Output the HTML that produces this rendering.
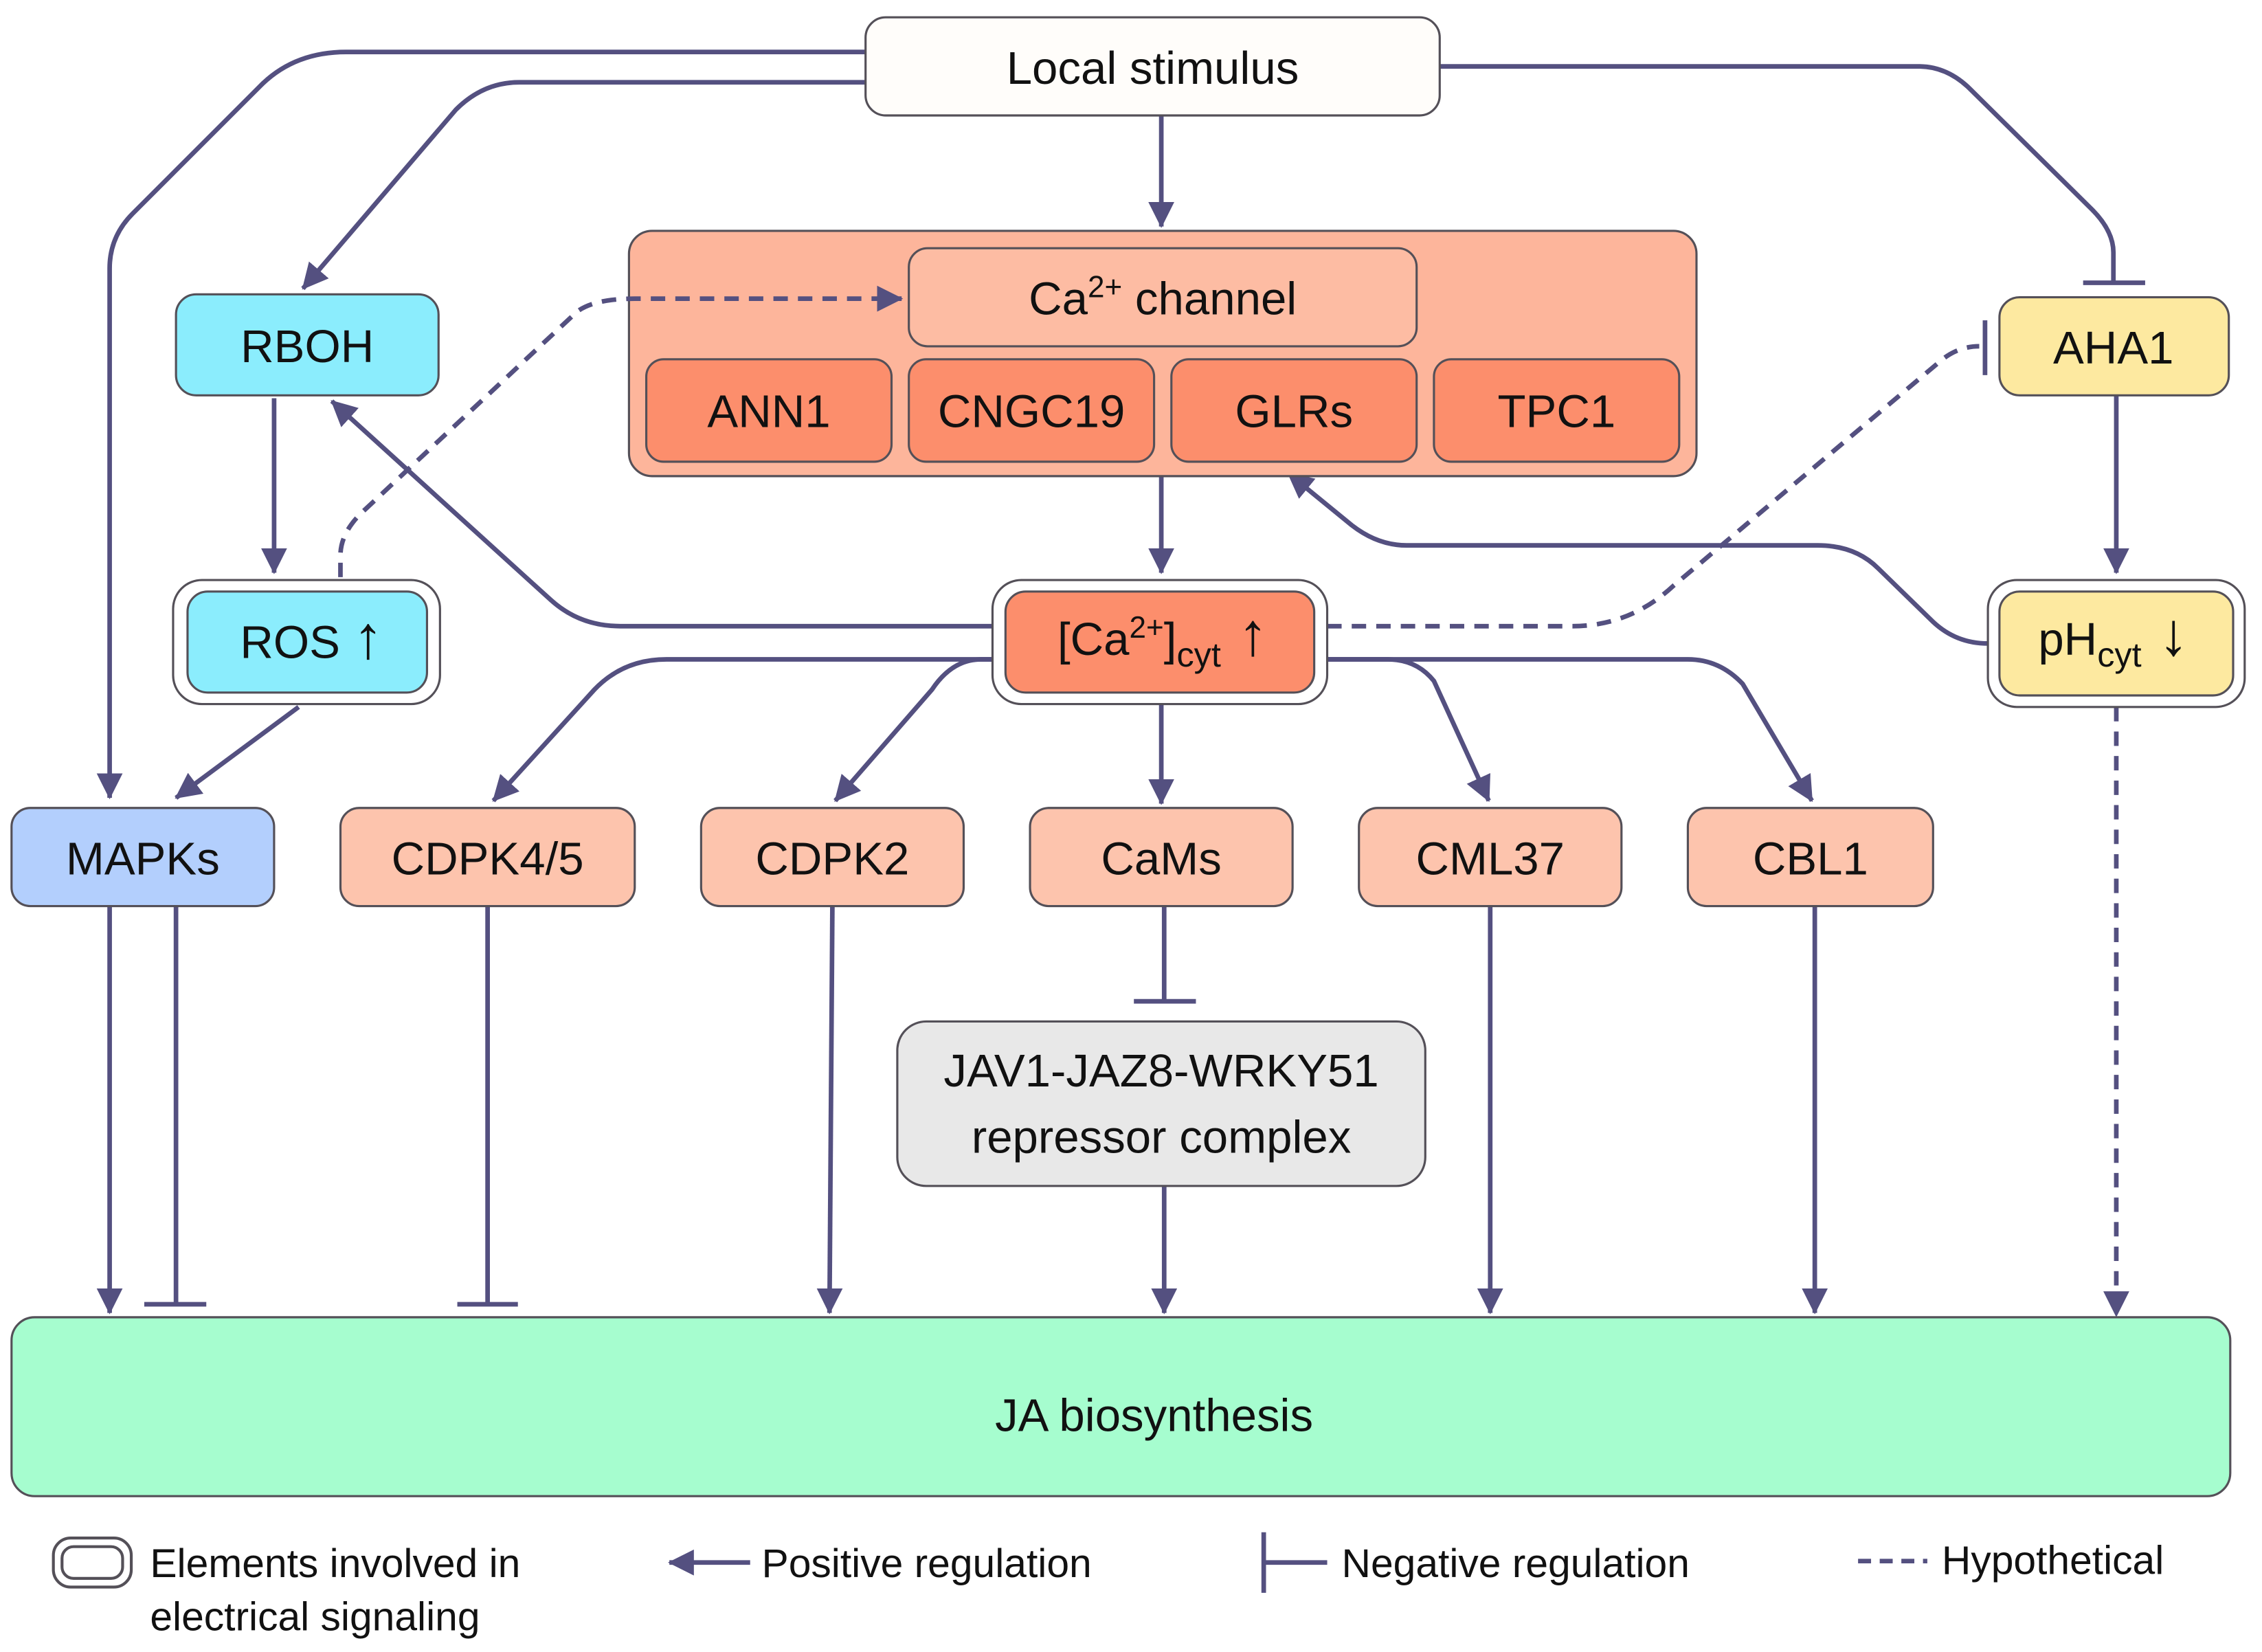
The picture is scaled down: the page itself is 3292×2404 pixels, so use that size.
<!DOCTYPE html>
<html><head><meta charset="utf-8"><style>html,body{margin:0;padding:0;background:#fff}svg{display:block}</style></head>
<body>
<svg width="3292" height="2404" viewBox="0 0 1568 1145" xmlns="http://www.w3.org/2000/svg" font-family="Liberation Sans, sans-serif">
<defs>
<marker id="a" markerUnits="userSpaceOnUse" markerWidth="20" markerHeight="18" refX="17" refY="9" orient="auto"><path d="M0,0 L18,9 L0,18 Z" fill="#545080"/></marker>
</defs>
<g fill="none" stroke="#545080" stroke-width="3.2">
<path d="M600,36 H240 Q205,36 182,58 L92,148 Q76,164 76,186 V553" marker-end="url(#a)"/>
<path d="M600,57 H360 Q335,57 316,76 L210,200" marker-end="url(#a)"/>
<path d="M805,80 V157" marker-end="url(#a)"/>
<path d="M998,46 H1330 Q1350,46 1366,62 L1450,145 Q1465,160 1465,175 V196"/>
<path d="M1444,196 H1487"/>
<path d="M190,276 V397" marker-end="url(#a)"/>
<path d="M688,434 H430 Q402,434 382,416 L230,278" marker-end="url(#a)"/>
<path d="M805,330 V397" marker-end="url(#a)"/>
<path d="M1378,446 Q1356,446 1340,431 L1302,394 Q1286,378 1260,378 H975 Q955,378 937,364 L893,328" marker-end="url(#a)"/>
<path d="M920,434 H1090 Q1130,434 1160,406 L1343,252 Q1356,240 1372,240" stroke-dasharray="10,7"/>
<path d="M1376,222 V260"/>
<path d="M1467,274 V397" marker-end="url(#a)"/>
<path d="M1467,490 V912" stroke-dasharray="10,7" marker-end="url(#a)"/>
<path d="M207,490 L122,553" marker-end="url(#a)"/>
<path d="M690,457 H462 Q432,457 412,478 L342,555" marker-end="url(#a)"/>
<path d="M694,457 H680 Q660,457 646,478 L579,555" marker-end="url(#a)"/>
<path d="M805,488 V557" marker-end="url(#a)"/>
<path d="M918,457 H962 Q982,457 994,472 L1032,555" marker-end="url(#a)"/>
<path d="M918,457 H1170 Q1192,457 1208,474 L1256,555" marker-end="url(#a)"/>
<path d="M76,628 V910" marker-end="url(#a)"/>
<path d="M122,628 V904 M100,904 H143"/>
<path d="M338,628 V904 M317,904 H359"/>
<path d="M577,628 L575,910" marker-end="url(#a)"/>
<path d="M807,628 V694 M786,694 H829"/>
<path d="M807,822 V910" marker-end="url(#a)"/>
<path d="M1033,628 V910" marker-end="url(#a)"/>
<path d="M1258,628 V910" marker-end="url(#a)"/>
<path d="M520,1083 H464" marker-end="url(#a)"/>
<path d="M876,1062 V1104 M876,1083 H920"/>
<path d="M1288,1082 H1336" stroke-dasharray="9,6"/>
</g>
<g stroke="#545058" stroke-width="1.5">
<rect x="600" y="12" width="398" height="68" rx="14" fill="#fffdfa"/>
<rect x="436" y="160" width="740" height="170" rx="16" fill="#fdb59b"/>
<rect x="630" y="172" width="352" height="68" rx="13" fill="#fdbca3"/>
<rect x="448" y="249" width="170" height="71" rx="12" fill="#fc8e6c"/>
<rect x="630" y="249" width="170" height="71" rx="12" fill="#fc8e6c"/>
<rect x="812" y="249" width="170" height="71" rx="12" fill="#fc8e6c"/>
<rect x="994" y="249" width="170" height="71" rx="12" fill="#fc8e6c"/>
<rect x="122" y="204" width="182" height="70" rx="14" fill="#8bedfd"/>
<rect x="120" y="402" width="185" height="86" rx="20" fill="#fff"/>
<rect x="130" y="410" width="166" height="70" rx="14" fill="#8bedfd"/>
<rect x="688" y="402" width="232" height="86" rx="20" fill="#fff"/>
<rect x="697" y="410" width="214" height="70" rx="14" fill="#fc8e6c"/>
<rect x="1386" y="206" width="159" height="68" rx="14" fill="#fde9a0"/>
<rect x="1378" y="402" width="178" height="88" rx="20" fill="#fff"/>
<rect x="1386" y="410" width="162" height="72" rx="14" fill="#fde9a0"/>
<rect x="8" y="560" width="182" height="68" rx="13" fill="#b3cffd"/>
<rect x="236" y="560" width="204" height="68" rx="13" fill="#fdc4ad"/>
<rect x="486" y="560" width="182" height="68" rx="13" fill="#fdc4ad"/>
<rect x="714" y="560" width="182" height="68" rx="13" fill="#fdc4ad"/>
<rect x="942" y="560" width="182" height="68" rx="13" fill="#fdc4ad"/>
<rect x="1170" y="560" width="170" height="68" rx="13" fill="#fdc4ad"/>
<rect x="622" y="708" width="366" height="114" rx="20" fill="#e8e8e8"/>
<rect x="8" y="913" width="1538" height="124" rx="16" fill="#a6fdcf"/>
<rect x="37" y="1066" width="54" height="34" rx="12" fill="#fff" stroke="#545058" stroke-width="2"/>
<rect x="43" y="1072" width="42" height="22" rx="8" fill="#fff" stroke="#545058" stroke-width="2"/>
</g>
<path d="M236,400 V385 Q236,370 250,356 L400,216 Q412,207 440,207 H625" fill="none" stroke="#545080" stroke-width="3.2" stroke-dasharray="10,7" marker-end="url(#a)"/>
<g font-size="32" fill="#111" text-anchor="middle">
<text x="799" y="58">Local stimulus</text>
<text x="806" y="218">Ca<tspan dy="-12" font-size="21">2+</tspan><tspan dy="12"> channel</tspan></text>
<text x="533" y="296">ANN1</text>
<text x="715" y="296">CNGC19</text>
<text x="897" y="296">GLRs</text>
<text x="1079" y="296">TPC1</text>
<text x="213" y="251">RBOH</text>
<text x="216" y="456">ROS <tspan font-size="42">↑</tspan></text>
<text x="806" y="454">[Ca<tspan dy="-12" font-size="21">2+</tspan><tspan dy="12">]</tspan><tspan dy="8" font-size="24">cyt</tspan><tspan dy="-8" font-size="42"> ↑</tspan></text>
<text x="1465" y="252">AHA1</text>
<text x="1465" y="454">pH<tspan dy="8" font-size="24">cyt</tspan><tspan dy="-8" font-size="42"> ↓</tspan></text>
<text x="99" y="606">MAPKs</text>
<text x="338" y="606">CDPK4/5</text>
<text x="577" y="606">CDPK2</text>
<text x="805" y="606">CaMs</text>
<text x="1033" y="606">CML37</text>
<text x="1255" y="606">CBL1</text>
<text x="805" y="753">JAV1-JAZ8-WRKY51</text>
<text x="805" y="799">repressor complex</text>
<text x="800" y="992">JA biosynthesis</text>
</g>
<g font-size="28" fill="#111">
<text x="104" y="1093">Elements involved in</text>
<text x="104" y="1130">electrical signaling</text>
<text x="528" y="1093">Positive regulation</text>
<text x="930" y="1093">Negative regulation</text>
<text x="1346" y="1091">Hypothetical</text>
</g>
</svg>
</body></html>
